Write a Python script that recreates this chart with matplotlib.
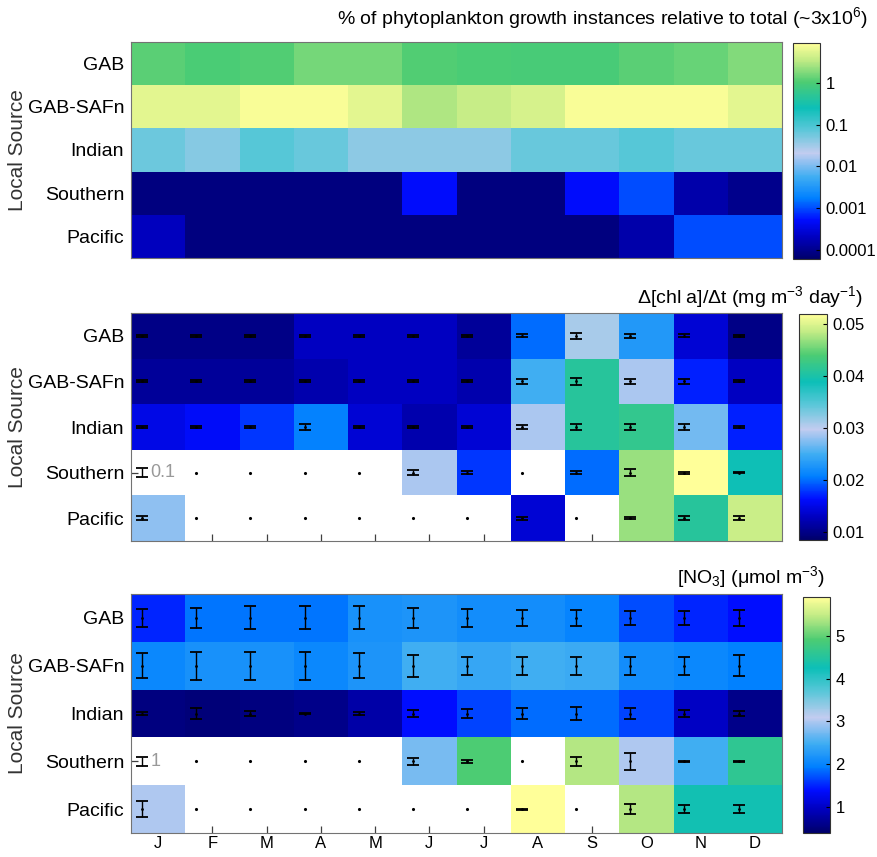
import numpy as np
import matplotlib
matplotlib.use('Agg')
import matplotlib.pyplot as plt
from matplotlib.colors import LinearSegmentedColormap, LogNorm, Normalize

plt.rcParams['mathtext.default'] = 'regular'

narrow = ['Liberation Sans Narrow', 'Liberation Sans', 'DejaVu Sans']
plain = ['Liberation Sans', 'DejaVu Sans']

nan = np.nan
months = ['J', 'F', 'M', 'A', 'M', 'J', 'J', 'A', 'S', 'O', 'N', 'D']
sources = ['GAB', 'GAB-SAFn', 'Indian', 'Southern', 'Pacific']

# % of growth instances (log colour scale)
growth_pct = [
    [1.2, 1.0, 1.1, 1.6, 1.6, 1.1, 1.0, 0.95, 0.95, 1.2, 1.4, 1.8],
    [6.0, 6.0, 8.0, 8.0, 6.0, 3.0, 3.8, 5.0, 8.0, 8.0, 8.0, 6.0],
    [0.06, 0.045, 0.08, 0.065, 0.04, 0.04, 0.04, 0.065, 0.065, 0.08, 0.065, 0.065],
    [8e-5, 8e-5, 8e-5, 8e-5, 8e-5, 5e-4, 8e-5, 8e-5, 5e-4, 1e-3, 1.5e-4, 1e-4],
    [2e-4, 8e-5, 8e-5, 8e-5, 8e-5, 8e-5, 8e-5, 8e-5, 8e-5, 1.5e-4, 1e-3, 1e-3],
]

# chl a growth rate (mg m-3 day-1) and its spread
chl_rate = [
    [0.010, 0.010, 0.010, 0.013, 0.013, 0.013, 0.011, 0.020, 0.031, 0.023, 0.014, 0.010],
    [0.011, 0.011, 0.011, 0.012, 0.013, 0.013, 0.012, 0.025, 0.041, 0.029, 0.017, 0.013],
    [0.015, 0.016, 0.018, 0.021, 0.014, 0.012, 0.014, 0.029, 0.041, 0.042, 0.027, 0.017],
    [nan, nan, nan, nan, nan, 0.029, 0.018, nan, 0.020, 0.047, 0.052, 0.039],
    [0.028, nan, nan, nan, nan, nan, nan, 0.014, nan, 0.047, 0.041, 0.049],
]
chl_err = [
    [0.02, 0.02, 0.02, 0.02, 0.02, 0.02, 0.02, 0.03, 0.06, 0.05, 0.03, 0.02],
    [0.02, 0.02, 0.02, 0.02, 0.02, 0.02, 0.02, 0.05, 0.07, 0.06, 0.05, 0.02],
    [0.02, 0.02, 0.02, 0.06, 0.02, 0.02, 0.02, 0.05, 0.06, 0.06, 0.06, 0.02],
    [nan, nan, nan, nan, nan, 0.05, 0.04, nan, 0.04, 0.08, 0.02, 0.01],
    [0.05, nan, nan, nan, nan, nan, nan, 0.03, nan, 0.02, 0.05, 0.05],
]
chl_ref = 0.1

# nitrate (umol m-3) and its spread
nitrate = [
    [1.5, 1.9, 1.9, 1.9, 2.15, 2.2, 2.1, 2.1, 2.0, 1.7, 1.5, 1.4],
    [2.05, 2.15, 2.15, 2.05, 2.2, 2.5, 2.4, 2.5, 2.45, 2.1, 2.05, 1.95],
    [0.55, 0.5, 0.55, 0.6, 0.8, 1.4, 1.65, 1.85, 1.85, 1.65, 1.0, 0.6],
    [nan, nan, nan, nan, nan, 2.75, 4.9, nan, 5.4, 3.0, 2.5, 4.6],
    [3.0, nan, nan, nan, nan, nan, nan, 5.9, nan, 5.4, 4.3, 4.3],
]
nitrate_err = [
    [1.9, 2.1, 2.4, 2.4, 2.4, 2.1, 1.8, 1.7, 1.7, 1.4, 1.4, 1.6],
    [2.6, 2.9, 2.9, 2.9, 2.6, 2.3, 1.9, 1.9, 1.9, 1.9, 1.9, 2.2],
    [0.3, 1.2, 0.6, 0.2, 0.3, 0.8, 1.0, 1.1, 1.3, 1.1, 0.8, 0.6],
    [nan, nan, nan, nan, nan, 0.7, 0.3, nan, 1.0, 1.8, 0.1, 0.1],
    [1.6, nan, nan, nan, nan, nan, nan, 0.1, nan, 1.0, 0.8, 0.8],
]
nitrate_ref = 1

cmap = LinearSegmentedColormap.from_list('bgy', [
    (0.00, (0.00, 0.00, 0.42)),
    (0.10, (0.00, 0.00, 0.75)),
    (0.18, (0.00, 0.05, 1.00)),
    (0.28, (0.00, 0.50, 1.00)),
    (0.38, (0.25, 0.68, 0.95)),
    (0.49, (0.76, 0.80, 0.94)),
    (0.60, (0.35, 0.78, 0.85)),
    (0.70, (0.05, 0.75, 0.72)),
    (0.82, (0.30, 0.80, 0.45)),
    (0.92, (0.75, 0.92, 0.52)),
    (1.00, (1.00, 1.00, 0.60)),
])
cmap.set_bad((1, 1, 1, 0))  # empty cells let the ticks show through

W, H = 877, 857
fig = plt.figure(figsize=(W / 100, H / 100), dpi=100)


def box(l, t, r, b):
    return [l / W, 1 - b / H, (r - l) / W, (b - t) / H]


def panel(axpos, caxpos, data, norm, ticks, ticklabels, err=None, ref=None,
          ref_text='', months_on=False):
    ax = fig.add_axes(box(*axpos))
    cax = fig.add_axes(box(*caxpos))
    vals = np.ma.masked_invalid(np.array(data, dtype=float))
    mesh = ax.pcolormesh(np.arange(13), np.arange(6), vals, cmap=cmap, norm=norm, zorder=1)
    ax.set_xlim(0, 12)
    ax.set_ylim(5, 0)
    ax.set_axisbelow(True)
    ax.set_xticks(np.arange(12) + 0.5)
    ax.set_yticks(np.arange(5) + 0.5)
    ax.set_yticklabels(sources, family=narrow, fontsize=14)
    if months_on:
        ax.set_xticklabels(months, family=plain, fontsize=12)
    else:
        ax.set_xticklabels([])
    ax.tick_params(direction='in', length=5, width=0.9, color='0.25', pad=5)
    ax.tick_params(axis='x', pad=2)
    for s in ax.spines.values():
        s.set_color('0.45')
        s.set_linewidth(0.8)

    if err is not None:
        e = np.array(err, dtype=float)
        v = np.array(data, dtype=float)
        k = 0.1 / ref
        rows, cols = np.where(~np.isnan(e))
        ax.errorbar(cols + 0.2, rows + 0.5, yerr=e[rows, cols] * k, fmt='.', ms=2,
                    color='k', elinewidth=1.0, capsize=4, capthick=1.3, zorder=3)
        # empty cells (scale bar sits in Southern / J)
        rows, cols = np.where(np.isnan(v) & np.isnan(e))
        keep = ~((rows == 3) & (cols == 0))
        ax.plot(cols[keep] + 0.2, rows[keep] + 0.5, '.', ms=2.5, color='k', zorder=3)
        ax.errorbar([0.2], [3.5], yerr=[ref * k], fmt='none', color='k',
                    elinewidth=1.0, capsize=4, capthick=1.3, zorder=3)
        ax.text(0.36, 3.5, ref_text, color='0.6', fontsize=13, family=plain,
                ha='left', va='center', zorder=3)

    cb = fig.colorbar(mesh, cax=cax)
    cb.set_ticks(ticks)
    cb.set_ticklabels(ticklabels)
    cax.minorticks_off()
    cax.tick_params(direction='in', length=3, width=0.8, labelsize=12, pad=4)
    for lab in cax.get_yticklabels():
        lab.set_family(plain)
    cb.outline.set_linewidth(0.8)
    cb.outline.set_edgecolor('0.2')
    fig.text(18 / W, ax.get_position().y0 + ax.get_position().height / 2, 'Local Source',
             rotation=90, ha='center', va='center', fontsize=15, family=plain, color='0.2')
    return ax


panel((131, 42, 782, 258), (793, 43, 820, 259), growth_pct,
      LogNorm(vmin=6e-5, vmax=9.2), [1e-4, 1e-3, 1e-2, 1e-1, 1],
      ['0.0001', '0.001', '0.01', '0.1', '1'])

panel((131, 313, 782, 541), (799, 314, 827, 540), chl_rate,
      Normalize(vmin=0.0085, vmax=0.052), [0.01, 0.02, 0.03, 0.04, 0.05],
      ['0.01', '0.02', '0.03', '0.04', '0.05'], err=chl_err, ref=chl_ref, ref_text='0.1')

panel((131, 594, 782, 833), (803, 597, 830, 833), nitrate,
      Normalize(vmin=0.4, vmax=5.9), [1, 2, 3, 4, 5],
      ['1', '2', '3', '4', '5'], err=nitrate_err, ref=nitrate_ref, ref_text='1',
      months_on=True)

fig.text(868 / W, 1 - 18 / H, '% of phytoplankton growth instances relative to total (~3x10$^6$)',
         ha='right', va='center', fontsize=14, family=narrow)
fig.text(863 / W, 1 - 297 / H, '$\\Delta$[chl a]/$\\Delta$t (mg m$^{-3}$ day$^{-1}$)',
         ha='right', va='center', fontsize=14, family=narrow)
fig.text(825 / W, 1 - 577 / H, '[NO$_3$] ($\\mu$mol m$^{-3}$)',
         ha='right', va='center', fontsize=14, family=narrow)

fig.savefig('out.png', dpi=100)
